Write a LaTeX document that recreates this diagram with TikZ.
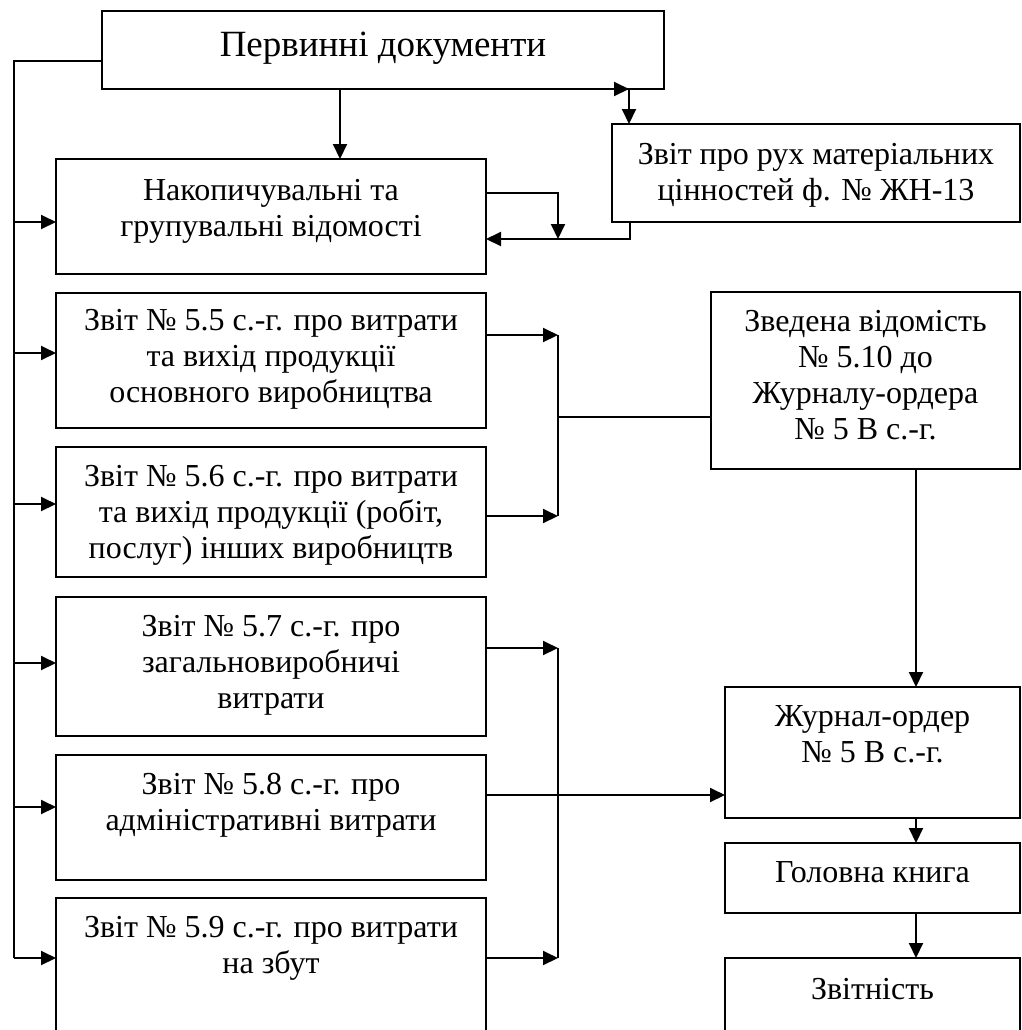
\documentclass[tikz,border=0pt]{standalone}
\usepackage{fontspec}
\setmainfont{Liberation Serif}
\usetikzlibrary{arrows.meta}

\newcommand{\intext}[4][7pt]{\parbox[t][#3][t]{#2}{\centering\vspace*{#1}\strut #4}}

\begin{document}
\begin{tikzpicture}[x=0.5pt,y=-0.5pt,
	box/.style={draw, line width=1pt, anchor=north west, inner sep=0pt, outer sep=0pt,
		font=\fontsize{16pt}{18pt}\selectfont},
	link/.style={line width=1pt},
	arr/.style={link, -{Triangle[length=7.5pt,width=7pt]}}]
	\useasboundingbox (0,0) rectangle (1022,1030);
	% blocks
	\node[box, font=\fontsize{18.5pt}{22pt}\selectfont] (perv) at (102,11)
		{\intext[7.1pt]{281pt}{39pt}{Первинні документи}};
	\node[box] (nakop) at (56,159)
		{\intext[8pt]{215pt}{57.5pt}{Накопичувальні та\\групувальні відомості}};
	\node[box] (zvit13) at (612,124)
		{\intext[7.5pt]{204pt}{49pt}{Звіт про рух матеріальних\\цінностей ф. № ЖН-13}};
	\node[box] (z55) at (56,293)
		{\intext[6pt]{215pt}{67.5pt}{Звіт № 5.5 с.-г. про витрати\\та вихід продукції\\основного виробництва}};
	\node[box] (z56) at (56,447)
		{\intext{215pt}{65pt}{Звіт № 5.6 с.-г. про витрати\\та вихід продукції (робіт,\\послуг) інших виробництв}};
	\node[box] (z57) at (56,597)
		{\intext{215pt}{69.5pt}{Звіт № 5.7 с.-г. про\\загальновиробничі\\витрати}};
	\node[box] (z58) at (56,755)
		{\intext{215pt}{62.5pt}{Звіт № 5.8 с.-г. про\\адміністративні витрати}};
	\node[box] (z59) at (56,898)
		{\intext{215pt}{71pt}{Звіт № 5.9 с.-г. про витрати\\на збут}};
	\node[box] (zved) at (711,292)
		{\intext{154.5pt}{88.5pt}{Зведена відомість\\№ 5.10 до\\Журналу-ордера\\№ 5 В с.-г.}};
	\node[box] (jo) at (725,687)
		{\intext{147.5pt}{65.5pt}{Журнал-ордер\\№ 5 В с.-г.}};
	\node[box] (gk) at (725,843)
		{\intext{147.5pt}{35pt}{Головна книга}};
	\node[box] (zvitn) at (725,958)
		{\intext[8pt]{147.5pt}{41pt}{Звітність}};
	% left bus
	\draw[link] (perv.west |- 0,61) -| (14,958);
	\foreach \n/\y in {nakop/222,z55/353,z56/504,z57/663,z58/807,z59/958}
		\draw[arr] (14,\y) -- (\n.west |- 0,\y);
	% top part
	\draw[arr] (340,0 |- perv.south) -- (340,0 |- nakop.north);
	\coordinate (jn) at (629,0 |- perv.south);
	\coordinate (mrg) at (558,239);
	\draw[arr] ([xshift=-20pt]jn) -- (jn);
	\draw[arr] (jn) -- (jn |- zvit13.north);
	\draw[arr] (nakop.east |- 0,193) -| (mrg);
	\draw[arr] (630,0 |- zvit13.south) |- (nakop.east |- mrg);
	% reports to summaries
	\draw[link] (558,335) -- (558,516);
	\draw[arr] (z55.east |- 0,335) -- (558,335);
	\draw[arr] (z56.east |- 0,516) -- (558,516);
	\draw[link] (558,417) -- (zved.west |- 0,417);
	\draw[link] (558,648) -- (558,958);
	\draw[arr] (z57.east |- 0,648) -- (558,648);
	\draw[arr] (z59.east |- 0,958) -- (558,958);
	\draw[arr] (z58.east |- 0,795) -- (jo.west |- 0,795);
	% right column
	\draw[arr] (916,0 |- zved.south) -- (916,0 |- jo.north);
	\draw[arr] (916,0 |- jo.south) -- (916,0 |- gk.north);
	\draw[arr] (916,0 |- gk.south) -- (916,0 |- zvitn.north);
\end{tikzpicture}
\end{document}
